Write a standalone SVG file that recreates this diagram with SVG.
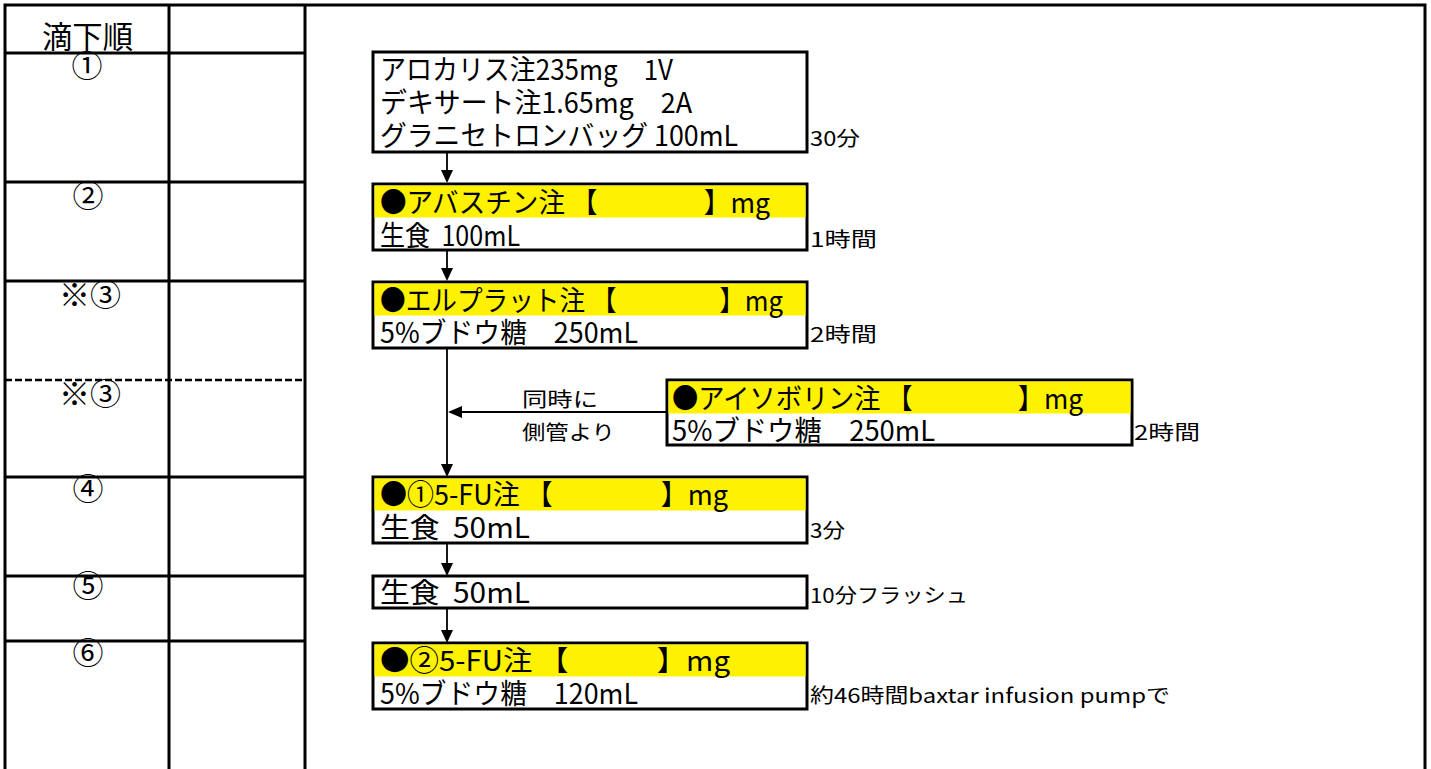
<svg xmlns="http://www.w3.org/2000/svg" width="1431" height="769" viewBox="0 0 1431 769">
<style>
.t{font-family:"Noto Sans CJK JP","Noto Sans",sans-serif;fill:#000}
.big{font-size:28px}
.num{font-size:31px}
.sm{font-size:20px}
.grid{stroke:#000;stroke-width:3;fill:none}
.box{stroke:#000;stroke-width:3;fill:#fff}
.yel{fill:#FFF200}
.ln{stroke:#000;stroke-width:1.8;fill:none}
</style>
<rect width="1431" height="769" fill="#fff"/>
<g id="table">
<path class="grid" d="M5,769V5H1425V769M169,5V769M305,5V769M5,53H305M5,182H305M5,281H305M5,477H305M5,576H305M5,641H305"/>
<path d="M5,380H305" stroke="#000" stroke-width="2.5" stroke-dasharray="7,3"/>
<text class="t" font-size="31" x="42" y="48" textLength="91" lengthAdjust="spacingAndGlyphs">滴下順</text>
<text class="t num" x="87" y="77" text-anchor="middle">①</text>
<text class="t num" x="88" y="207" text-anchor="middle">②</text>
<text class="t num" x="90" y="306" text-anchor="middle">※③</text>
<text class="t num" x="90" y="405" text-anchor="middle">※③</text>
<text class="t num" x="88" y="500" text-anchor="middle">④</text>
<text class="t num" x="88" y="597" text-anchor="middle">⑤</text>
<text class="t num" x="88" y="664" text-anchor="middle">⑥</text>
</g>
<g id="connectors">
<path class="ln" d="M447,152V171M447,250V269M447,348V465M447,543V564M447,608V631M667,412H460"/>
<polygon points="441,170 453,170 447,183"/>
<polygon points="441,268 453,268 447,281"/>
<polygon points="441,464 453,464 447,477"/>
<polygon points="441,563 453,563 447,576"/>
<polygon points="441,630 453,630 447,643"/>
<polygon points="448,412 462,406 462,418"/>
<text class="t sm" x="522" y="407" textLength="76" lengthAdjust="spacingAndGlyphs">同時に</text>
<text class="t sm" x="522" y="440" textLength="93" lengthAdjust="spacingAndGlyphs">側管より</text>
</g>
<g id="node1">
<rect class="box" x="373" y="52" width="434" height="100"/>
<text class="t big" x="380" y="80" textLength="293" lengthAdjust="spacingAndGlyphs">アロカリス注235mg　1V</text>
<text class="t big" x="380" y="113" textLength="312" lengthAdjust="spacingAndGlyphs">デキサート注1.65mg　2A</text>
<text class="t big" x="380" y="146" textLength="358" lengthAdjust="spacingAndGlyphs">グラニセトロンバッグ 100mL</text>
<text class="t sm" x="810" y="146" textLength="50" lengthAdjust="spacingAndGlyphs">30分</text>
</g>
<g id="node2">
<rect class="box" x="373" y="184" width="434" height="66"/>
<rect class="yel" x="374.5" y="185.5" width="431" height="32"/>
<text class="t big" x="380" y="213" textLength="390" lengthAdjust="spacingAndGlyphs">●アバスチン注 【　　　　】mg</text>
<text class="t big" x="380" y="246" textLength="140" lengthAdjust="spacingAndGlyphs">生食 &#160;100mL</text>
<text class="t sm" x="810" y="247" textLength="67" lengthAdjust="spacingAndGlyphs">1時間</text>
</g>
<g id="node3">
<rect class="box" x="373" y="282" width="434" height="66"/>
<rect class="yel" x="374.5" y="283.5" width="431" height="32"/>
<text class="t big" x="380" y="311" textLength="403" lengthAdjust="spacingAndGlyphs">●エルプラット注 【　　　　】mg</text>
<text class="t big" x="380" y="343" textLength="258" lengthAdjust="spacingAndGlyphs">5%ブドウ糖　250mL</text>
<text class="t sm" x="810" y="342" textLength="67" lengthAdjust="spacingAndGlyphs">2時間</text>
</g>
<g id="nodeA">
<rect class="box" x="667" y="380" width="465" height="65"/>
<rect class="yel" x="668.5" y="381.5" width="462" height="32"/>
<text class="t big" x="672" y="409" textLength="411" lengthAdjust="spacingAndGlyphs">●アイソボリン注 【　　　　】mg</text>
<text class="t big" x="672" y="441" textLength="263" lengthAdjust="spacingAndGlyphs">5%ブドウ糖　250mL</text>
<text class="t sm" x="1134" y="440" textLength="66" lengthAdjust="spacingAndGlyphs">2時間</text>
</g>
<g id="node4">
<rect class="box" x="373" y="477" width="434" height="66"/>
<rect class="yel" x="374.5" y="478.5" width="431" height="32"/>
<text class="t big" x="380" y="505" textLength="348" lengthAdjust="spacingAndGlyphs">●①5-FU注 【　　　　】mg</text>
<text class="t big" x="380" y="538" textLength="150" lengthAdjust="spacingAndGlyphs">生食 &#160;50mL</text>
<text class="t sm" x="810" y="538" textLength="35" lengthAdjust="spacingAndGlyphs">3分</text>
</g>
<g id="node5">
<rect class="box" x="373" y="576" width="434" height="32"/>
<text class="t big" x="380" y="603" textLength="150" lengthAdjust="spacingAndGlyphs">生食 &#160;50mL</text>
<text class="t sm" x="810" y="603" textLength="158" lengthAdjust="spacingAndGlyphs">10分フラッシュ</text>
</g>
<g id="node6">
<rect class="box" x="373" y="643" width="434" height="66"/>
<rect class="yel" x="374.5" y="644.5" width="431" height="32"/>
<text class="t big" x="380" y="671" textLength="350" lengthAdjust="spacingAndGlyphs">●②5-FU注 【　　　】mg</text>
<text class="t big" x="380" y="704" textLength="258" lengthAdjust="spacingAndGlyphs">5%ブドウ糖　120mL</text>
<text class="t sm" x="810" y="703" textLength="360" lengthAdjust="spacingAndGlyphs">約46時間baxtar infusion pumpで</text>
</g>
</svg>
